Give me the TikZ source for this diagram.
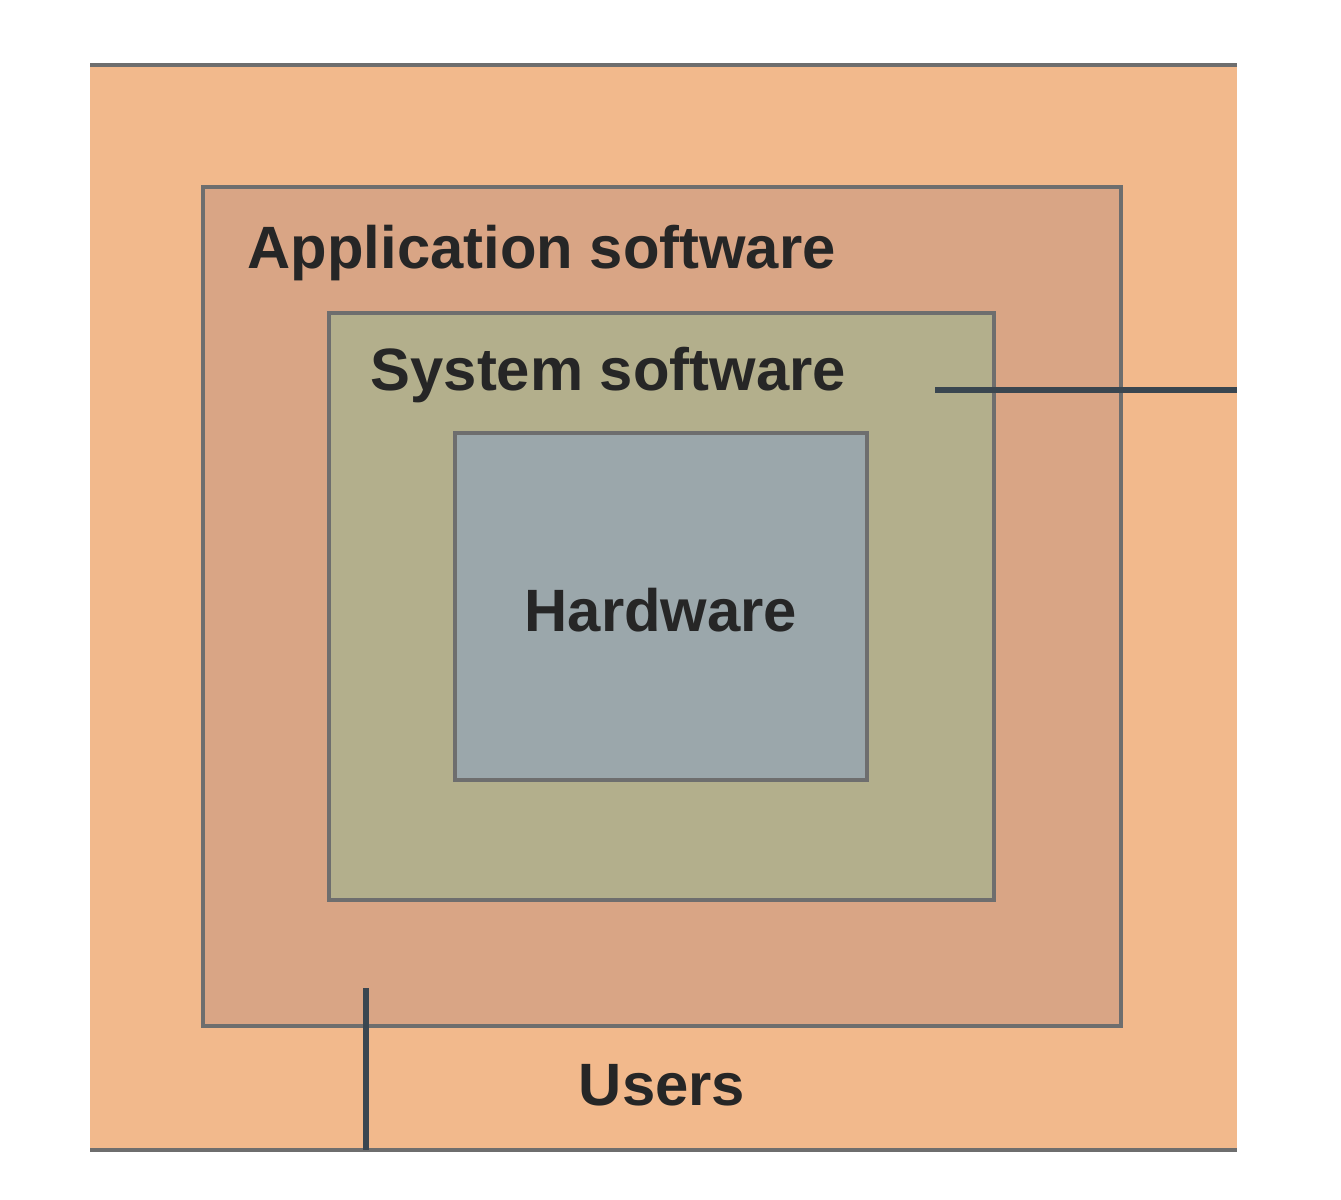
\documentclass[tikz,border=0pt]{standalone}
\usepackage{fontspec}
\setmainfont{Liberation Sans}
\definecolor{usersfill}{HTML}{F2B98C}
\definecolor{appfill}{HTML}{D9A585}
\definecolor{sysfill}{HTML}{B3AF8C}
\definecolor{hwfill}{HTML}{9BA7AB}
\definecolor{edge}{HTML}{6E6E6E}
\definecolor{lead}{HTML}{3A4650}
\begin{document}
\begin{tikzpicture}[x=0.01cm, y=-0.01cm,
  layer/.style = {draw=edge, line width=1.2pt},
  label/.style = {font=\fontsize{17}{20}\selectfont\bfseries, text=black!85, inner sep=0pt}]
		\useasboundingbox (0,0) rectangle (1341,1200);
		\fill[usersfill] (90,65) rectangle (1237,1150);
		\draw[edge, line width=1.2pt] (90,65) -- (1237,65);
		\draw[edge, line width=1.2pt] (90,1150) -- (1237,1150);
		\draw[layer, fill=appfill] (203,187) rectangle (1121,1026);
		\draw[layer, fill=sysfill] (329,313) rectangle (994,900);
		\draw[layer, fill=hwfill] (455,433) rectangle (867,780);
		\node[label, anchor=west] (app) at (247,253) {Application software};
		\node[label, anchor=west] (sys) at (370,375) {System software};
		\node[label] (hw) at (661,610) {Hardware};
		\node[label] (users) at (662,1085) {Users};
		\coordinate (sysa) at (935,390);
		\coordinate (sysb) at (1237,390);
		\coordinate (usra) at (366,988);
		\coordinate (usrb) at (366,1150);
		\draw[lead, line width=1.5pt] (sysa) -- (sysb);
		\draw[lead, line width=1.5pt] (usra) -- (usrb);
	\end{tikzpicture}
\end{document}
